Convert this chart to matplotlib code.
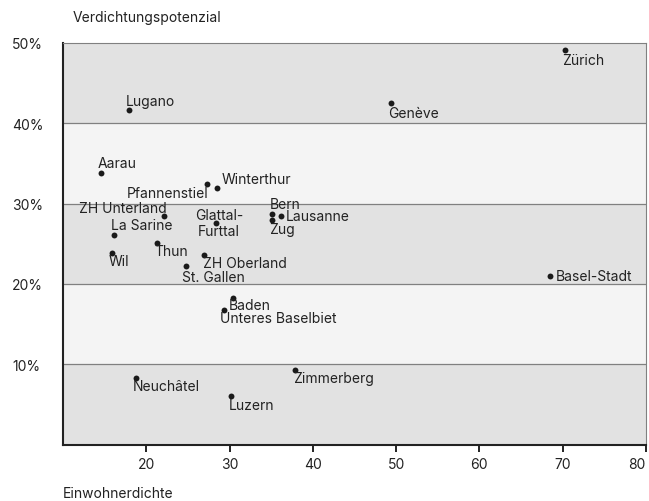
import matplotlib.pyplot as plt
import numpy as np

plt.rcParams['font.family'] = ['Inter', 'DejaVu Sans']

# Regionen: Einwohnerdichte (x) und Verdichtungspotenzial in % (y)
regions = ['Zürich', 'Genève', 'Lugano', 'Aarau', 'Pfannenstiel', 'Winterthur',
           'ZH Unterland', 'Bern', 'Zug', 'Lausanne', 'Glattal-\nFurttal',
           'La Sarine', 'Thun', 'Wil', 'ZH Oberland', 'St. Gallen',
           'Basel-Stadt', 'Baden', 'Unteres Baselbiet', 'Zimmerberg',
           'Neuchâtel', 'Luzern']
density = [70.3, 49.4, 17.9, 14.5, 27.3, 28.5, 22.1, 35.1, 35.1, 36.2, 28.4,
           16.1, 21.3, 15.8, 26.9, 24.8, 68.5, 30.4, 29.3, 37.9, 18.7, 30.2]
potential = [49.1, 42.5, 41.6, 33.8, 32.4, 32.0, 28.4, 28.7, 27.9, 28.4, 27.6,
             26.1, 25.1, 23.9, 23.6, 22.2, 21.0, 18.3, 16.8, 9.3, 8.3, 6.0]

# label offsets (points) and alignment
placement = {
    'Zürich': ((-2, -2), 'left', 'top'),
    'Genève': ((-2, -2), 'left', 'top'),
    'Lugano': ((-2, 2), 'left', 'bottom'),
    'Aarau': ((-2, 2), 'left', 'bottom'),
    'Pfannenstiel': ((1, -1), 'right', 'top'),
    'Winterthur': ((3, 1), 'left', 'bottom'),
    'ZH Unterland': ((2, 1), 'right', 'bottom'),
    'Bern': ((-2, 2), 'left', 'bottom'),
    'Zug': ((-2, -1), 'left', 'top'),
    'Lausanne': ((3, 0), 'left', 'center'),
    'Glattal-\nFurttal': ((2, 0), 'center', 'center'),
    'La Sarine': ((-2, 2), 'left', 'bottom'),
    'Thun': ((-2, -1), 'left', 'top'),
    'Wil': ((-2, -1), 'left', 'top'),
    'ZH Oberland': ((-1, -0.5), 'left', 'top'),
    'St. Gallen': ((-3, -2.5), 'left', 'top'),
    'Basel-Stadt': ((4, 0), 'left', 'center'),
    'Baden': ((-3, 0), 'left', 'top'),
    'Unteres Baselbiet': ((-3, -1), 'left', 'top'),
    'Zimmerberg': ((-2, -1), 'left', 'top'),
    'Neuchâtel': ((-2, -1), 'left', 'top'),
    'Luzern': ((-2, -1), 'left', 'top'),
}

yticks = [10, 20, 30, 40, 50]
ylabels = ['10%', '20%', '30%', '40%', '50%']
xticks = [20, 30, 40, 50, 60, 70, 80]

text_col = '#222222'
fs = 10

fig = plt.figure(figsize=(6.49, 5.02), dpi=100)
ax = fig.add_axes([0.0975, 0.1124, 0.8975, 0.80])

# alternating bands
for lo in range(0, 50, 10):
    col = '#e2e2e2' if (lo // 10) % 2 == 0 else '#f4f4f4'
    ax.axhspan(lo, lo + 10, color=col, zorder=0, lw=0)
for y in [10, 20, 30, 40]:
    ax.axhline(y, color='#808080', lw=0.9, zorder=1)

ax.scatter(density, potential, s=18, color='#1a1a1a', zorder=3, lw=0)

for name, x, y in zip(regions, density, potential):
    off, ha, va = placement[name]
    ax.annotate(name, (x, y), xytext=off, textcoords='offset points',
                ha=ha, va=va, fontsize=fs, color=text_col,
                linespacing=1.15, zorder=4)

ax.set_xlim(10, 80)
ax.set_ylim(0, 50)
ax.set_xticks(xticks)
ax.set_yticks(yticks)
ax.set_yticklabels(ylabels, ha='left')
ax.tick_params(axis='y', length=0, pad=37, labelsize=fs, labelcolor=text_col)
ax.tick_params(axis='x', length=5, width=1.4, color='#222222', pad=4,
               labelsize=fs, labelcolor=text_col)
ax.get_xticklabels()[-1].set_ha('right')

for s in ['left', 'bottom']:
    ax.spines[s].set_color('#222222')
    ax.spines[s].set_linewidth(1.5)
for s in ['top', 'right']:
    ax.spines[s].set_color('#808080')
    ax.spines[s].set_linewidth(0.8)

fig.text(73 / 649, 1 - 18 / 502, 'Verdichtungspotenzial', fontsize=fs,
         color=text_col, va='center')
fig.text(63 / 649, 1 - 494 / 502, 'Einwohnerdichte', fontsize=fs,
         color=text_col, va='center')

fig.savefig('out.png', dpi=100, facecolor='white')
